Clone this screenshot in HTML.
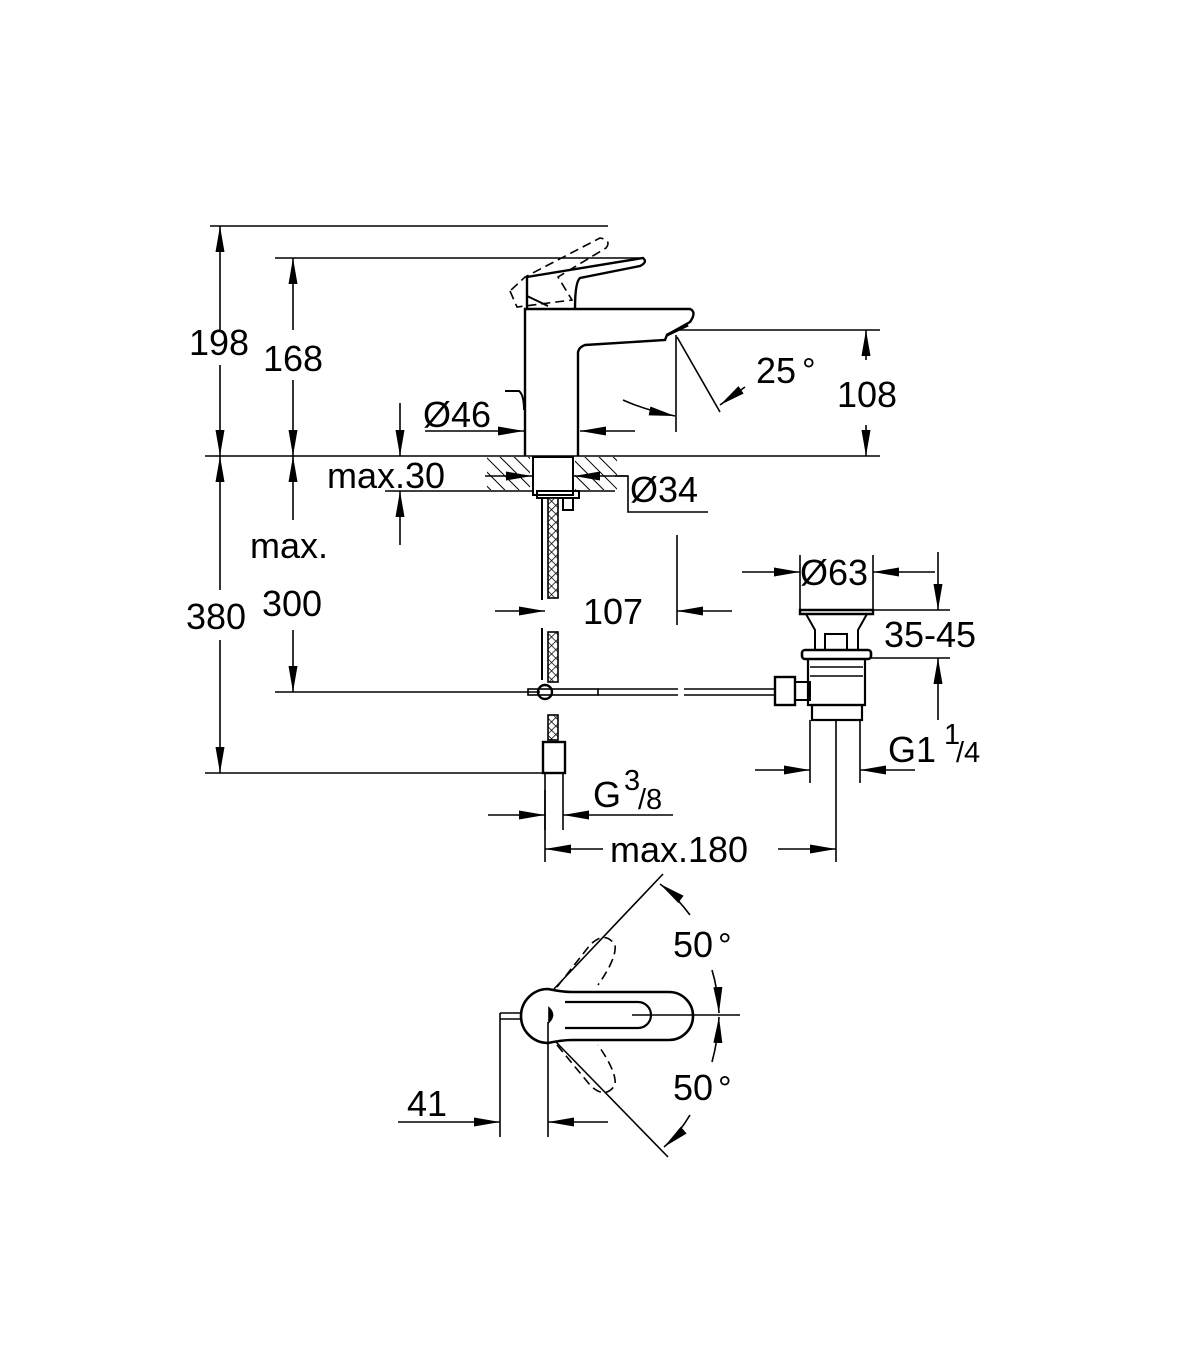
<!DOCTYPE html>
<html><head><meta charset="utf-8"><style>
html,body{margin:0;padding:0;background:#fff}
svg{display:block}
text{font-family:"Liberation Sans",sans-serif;font-size:36px;fill:#000}
text.s{font-size:29px}
text.d{font-size:34px}
</style></head><body>
<svg width="1200" height="1372" viewBox="0 0 1200 1372" xmlns="http://www.w3.org/2000/svg">
<defs>
<marker id="a" viewBox="0 0 26 10" refX="26" refY="5" markerWidth="26" markerHeight="10" markerUnits="userSpaceOnUse" orient="auto"><path d="M0,0.5 L26,5 L0,9.5 z" fill="#000"/></marker>
<pattern id="h" width="10" height="10" patternUnits="userSpaceOnUse" patternTransform="rotate(-45)"><line x1="0" y1="0" x2="0" y2="10" stroke="#000" stroke-width="2"/></pattern>
<pattern id="x" width="6" height="6" patternUnits="userSpaceOnUse" patternTransform="rotate(45)"><rect width="6" height="6" fill="#fff"/><path d="M0,0 H6 M0,0 V6" stroke="#000" stroke-width="1.5"/></pattern>
</defs>
<g stroke="#000" stroke-width="1.6" fill="none">
<line x1="210" y1="226" x2="608" y2="226"/>
<line x1="275" y1="258" x2="643" y2="258"/>
<line x1="205" y1="456" x2="880" y2="456"/>
<line x1="275" y1="692" x2="540" y2="692"/>
<line x1="205" y1="773" x2="545" y2="773"/>
<line x1="220" y1="330" x2="220" y2="226" marker-end="url(#a)"/>
<line x1="220" y1="365" x2="220" y2="456" marker-end="url(#a)"/>
<line x1="293" y1="330" x2="293" y2="258" marker-end="url(#a)"/>
<line x1="293" y1="380" x2="293" y2="456" marker-end="url(#a)"/>
<line x1="220" y1="590" x2="220" y2="456" marker-end="url(#a)"/>
<line x1="220" y1="640" x2="220" y2="773" marker-end="url(#a)"/>
<line x1="293" y1="520" x2="293" y2="456" marker-end="url(#a)"/>
<line x1="293" y1="630" x2="293" y2="692" marker-end="url(#a)"/>
<line x1="400" y1="403" x2="400" y2="456" marker-end="url(#a)"/>
<line x1="400" y1="545" x2="400" y2="491" marker-end="url(#a)"/>
<line x1="385" y1="491" x2="615" y2="491"/>
<path d="M525,456 V309 H690 Q697,312 690,322 L667,335 L665,340 L585,345 Q579,347 578,352 V456" stroke-width="2.4"/>
<path d="M667,335 L688,325" stroke-width="3"/>
<path d="M527,309 L527,277 L643,258 Q648,262 640,266 L580,278 Q575,282 575,309" stroke-width="2.4"/>
<path d="M527,296 L548,306" stroke-width="2"/>
<path d="M510,291 L517,307 L572,300 L558,277 L606,248 Q612,240 600,238 L525,277 Z" stroke-dasharray="9,5" stroke-width="1.6"/>
<path d="M505,391 L519,391 Q524,395 524,410" stroke-width="2"/>
<line x1="425" y1="431" x2="524" y2="431" marker-end="url(#a)"/>
<line x1="635" y1="431" x2="580" y2="431" marker-end="url(#a)"/>
<line x1="676" y1="335" x2="676" y2="432"/>
<line x1="677" y1="337" x2="720" y2="412"/>
<path d="M623,400 Q645,410 675,416" marker-end="url(#a)"/>
<line x1="745" y1="387" x2="720" y2="405" marker-end="url(#a)"/>
<line x1="677" y1="330" x2="880" y2="330"/>
<line x1="866" y1="360" x2="866" y2="330" marker-end="url(#a)"/>
<line x1="866" y1="425" x2="866" y2="456" marker-end="url(#a)"/>
<rect x="487" y="457" width="43" height="33" fill="url(#h)" stroke="none"/>
<rect x="575" y="457" width="42" height="33" fill="url(#h)" stroke="none"/>
<rect x="533" y="457" width="40" height="38" fill="#fff" stroke-width="2"/>
<rect x="537" y="491" width="42" height="7" stroke-width="2"/>
<rect x="563" y="498" width="10" height="12" stroke-width="2"/>
<line x1="485" y1="476" x2="532" y2="476" marker-end="url(#a)"/>
<line x1="628" y1="476" x2="574" y2="476" marker-end="url(#a)"/>
<polyline points="615,476 628,476 628,512 708,512"/>
<line x1="542" y1="498" x2="542" y2="600" stroke-width="2"/>
<rect x="548" y="498" width="10" height="100" fill="url(#x)"/>
<line x1="542" y1="628" x2="542" y2="680" stroke-width="2"/>
<rect x="548" y="632" width="10" height="50" fill="url(#x)"/>
<rect x="548" y="715" width="10" height="25" fill="url(#x)"/>
<rect x="543" y="742" width="22" height="31" stroke-width="2.4"/>
<line x1="545" y1="773" x2="545" y2="830"/>
<line x1="563" y1="773" x2="563" y2="830"/>
<circle cx="545" cy="692" r="7" stroke-width="2.4"/>
<rect x="528" y="689" width="70" height="6" stroke-width="1.6"/>
<line x1="598" y1="689" x2="678" y2="689"/><line x1="598" y1="695" x2="678" y2="695"/>
<line x1="684" y1="689" x2="775" y2="689"/><line x1="684" y1="695" x2="775" y2="695"/>
<rect x="775" y="677" width="20" height="28" stroke-width="2.4"/>
<rect x="795" y="682" width="15" height="18" stroke-width="2"/>
<line x1="495" y1="611" x2="545" y2="611" marker-end="url(#a)"/>
<line x1="732" y1="611" x2="677" y2="611" marker-end="url(#a)"/>
<line x1="677" y1="535" x2="677" y2="625"/>
<line x1="800" y1="555" x2="800" y2="610"/>
<line x1="873" y1="555" x2="873" y2="610"/>
<line x1="742" y1="572" x2="800" y2="572" marker-end="url(#a)"/>
<line x1="935" y1="572" x2="873" y2="572" marker-end="url(#a)"/>
<path d="M800,610 H873 V614 H800 Z" stroke-width="2.4"/>
<path d="M806,614 L815,630 V650 M867,614 L858,630 V650" stroke-width="2"/>
<rect x="825" y="634" width="22" height="16" stroke-width="2"/>
<rect x="802" y="650" width="69" height="9" rx="3" stroke-width="2.6"/>
<path d="M808,659 V705 H865 V659" stroke-width="2.2"/>
<line x1="810" y1="667" x2="863" y2="667"/><line x1="810" y1="676" x2="863" y2="676"/>
<rect x="812" y="705" width="50" height="15" stroke-width="2.2"/>
<line x1="810" y1="720" x2="810" y2="783"/>
<line x1="836" y1="720" x2="836" y2="862"/>
<line x1="860" y1="720" x2="860" y2="783"/>
<line x1="873" y1="610" x2="950" y2="610"/>
<line x1="870" y1="658" x2="950" y2="658"/>
<line x1="938" y1="552" x2="938" y2="610" marker-end="url(#a)"/>
<line x1="938" y1="720" x2="938" y2="658" marker-end="url(#a)"/>
<line x1="755" y1="770" x2="810" y2="770" marker-end="url(#a)"/>
<line x1="915" y1="770" x2="860" y2="770" marker-end="url(#a)"/>
<line x1="488" y1="815" x2="545" y2="815" marker-end="url(#a)"/>
<line x1="673" y1="815" x2="563" y2="815" marker-end="url(#a)"/>
<line x1="545" y1="790" x2="545" y2="862"/>
<line x1="603" y1="849" x2="545" y2="849" marker-end="url(#a)"/>
<line x1="778" y1="849" x2="836" y2="849" marker-end="url(#a)"/>
<path d="M572,992 H669 A24,24 0 0 1 669,1040 H572 Q562,1040 548,1043 A27,27 0 1 1 548,989 Q562,992 572,992 Z" stroke-width="2.6"/>
<path d="M565,1002 H638 A13,13 0 0 1 638,1028 H565" stroke-width="2.2"/>
<path d="M549,1008 Q556,1015 549,1022 Z" fill="#000"/>
<line x1="632" y1="1015" x2="740" y2="1015"/>
<path d="M500,1013 H522 M500,1019 H522" stroke-width="1.6"/>
<line x1="500" y1="1013" x2="500" y2="1137"/>
<line x1="548" y1="1022" x2="548" y2="1137"/>
<line x1="398" y1="1122" x2="500" y2="1122" marker-end="url(#a)"/>
<line x1="608" y1="1122" x2="548" y2="1122" marker-end="url(#a)"/>
<line x1="553" y1="990" x2="663" y2="874"/>
<line x1="556" y1="1042" x2="668" y2="1157"/>
<path d="M557,987 L590,945 Q605,930 615,945 Q617,958 598,985" stroke-dasharray="9,5"/>
<path d="M557,1045 L590,1085 Q605,1100 615,1085 Q617,1072 598,1045" stroke-dasharray="9,5"/>
<path d="M690,915 Q675,895 660,884" marker-end="url(#a)"/>
<path d="M712,970 Q718,990 719,1013" marker-end="url(#a)"/>
<path d="M712,1062 Q718,1040 719,1017" marker-end="url(#a)"/>
<path d="M690,1115 Q678,1135 664,1147" marker-end="url(#a)"/>
</g>
<text x="189" y="355">198</text>
<text x="263" y="371">168</text>
<text x="423" y="427">Ø46</text>
<text x="756" y="383">25</text>
<text x="802" y="382" class="d">°</text>
<text x="837" y="407">108</text>
<text x="327" y="488">max.30</text>
<text x="630" y="502">Ø34</text>
<text x="250" y="558">max.</text>
<text x="262" y="616">300</text>
<text x="186" y="629">380</text>
<text x="583" y="624">107</text>
<text x="800" y="585">Ø63</text>
<text x="884" y="647">35-45</text>
<text x="888" y="762">G1</text>
<text x="944" y="744" class="s">1</text>
<text x="956" y="762" class="s">/4</text>
<text x="593" y="807">G</text>
<text x="624" y="790" class="s">3</text>
<text x="638" y="809" class="s">/8</text>
<text x="610" y="862">max.180</text>
<text x="673" y="957">50</text>
<text x="718" y="957" class="d">°</text>
<text x="673" y="1100">50</text>
<text x="718" y="1100" class="d">°</text>
<text x="407" y="1116">41</text>
</svg>
</body></html>
